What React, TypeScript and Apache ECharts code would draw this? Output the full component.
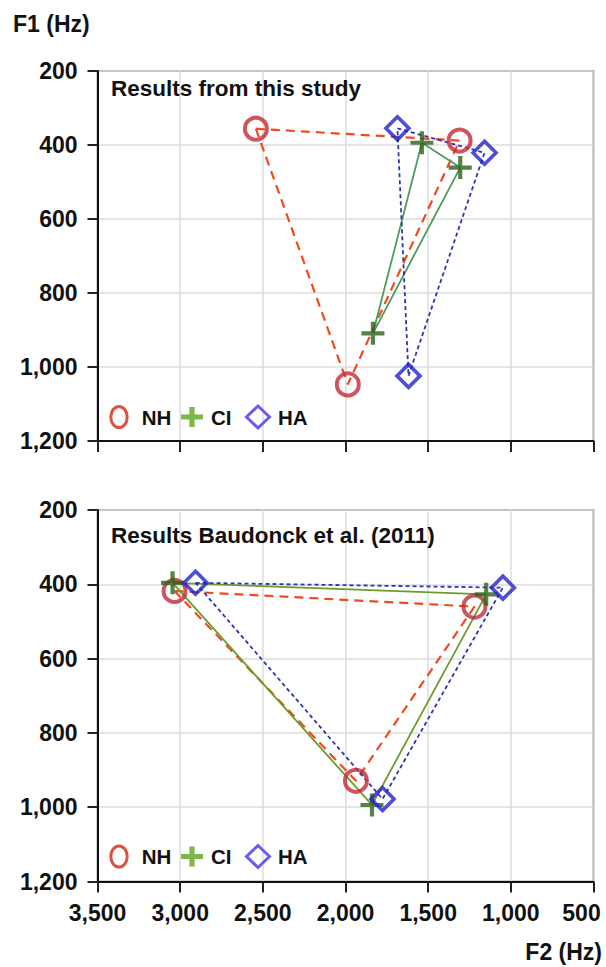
import React, { useEffect, useRef } from 'react';
import * as echarts from 'echarts';

// Axis ticks
const F2_TICKS = [3500, 3000, 2500, 2000, 1500, 1000, 500];
const F1_TICKS = [200, 400, 600, 800, 1000, 1200];

// Groups (legend)
const GROUPS = ['NH', 'CI', 'HA'];

// Panel titles
const PANEL_TITLES = ['Results from this study', 'Results Baudonck et al. (2011)'];

// Top panel: this study  [F2, F1]
const studyNH = [[2542, 356], [1310, 388], [1986, 1047]];
const studyCI = [[1538, 394], [1306, 461], [1834, 909]];
const studyHA = [[1686, 355], [1159, 421], [1619, 1024]];

// Bottom panel: Baudonck et al. (2011)  [F2, F1]
const baudNH = [[3034, 418], [1220, 460], [1937, 929]];
const baudCI = [[3046, 396], [1149, 427], [1840, 994]];
const baudHA = [[2907, 396], [1048, 409], [1776, 978]];

const FONT = '"Liberation Sans", Arial, Helvetica, sans-serif';
const PLUS = 'path://M9,0H13V9H22V13H13V22H9V13H0V9H9Z';

const fmt = (v: number) => v.toLocaleString('en-US');

const markerStyle: Record<string, any> = {
  NH: { symbol: 'circle', symbolSize: 22, itemStyle: { color: 'rgba(0,0,0,0)', borderColor: '#c02a38', borderWidth: 4 } },
  CI: { symbol: PLUS, symbolSize: 23, itemStyle: { color: '#2c6219', borderWidth: 0 } },
  HA: { symbol: 'diamond', symbolSize: 23, itemStyle: { color: 'rgba(0,0,0,0)', borderColor: '#2222cc', borderWidth: 3.6 } },
};

const lineStyles = (panel: number): Record<string, any> => ({
  NH: { color: '#f04a1e', width: 2.2, type: [9, 6] },
  CI: { color: panel === 0 ? '#4f9b5e' : '#6f9b2d', width: 1.8, type: 'solid' },
  HA: { color: '#2a36b0', width: 1.8, type: [4, 3] },
});

function buildLegend(y: number) {
  const tx = { NH: 141.7, CI: 211, HA: 278 };
  const cx = 119, px = 192, dx = 258;
  const pw = 11, ph = 10, pt = 2.6;
  const textStyle = (text: string, x: number) => ({
    type: 'text',
    z: 10,
    style: { text, x, y, fontSize: 20.5, fontWeight: 'bold', fontFamily: FONT, fill: '#111', verticalAlign: 'middle' },
  });
  return [
    { type: 'ellipse', z: 10, shape: { cx, cy: y, rx: 8.2, ry: 10.6 }, style: { fill: 'none', stroke: '#dd5343', lineWidth: 3 } },
    textStyle('NH', tx.NH),
    {
      type: 'polygon', z: 10,
      shape: {
        points: [
          [px - pt, y - ph], [px + pt, y - ph], [px + pt, y - pt], [px + pw, y - pt], [px + pw, y + pt],
          [px + pt, y + pt], [px + pt, y + ph], [px - pt, y + ph], [px - pt, y + pt], [px - pw, y + pt],
          [px - pw, y - pt], [px - pt, y - pt],
        ],
      },
      style: { fill: '#7db64b' },
    },
    textStyle('CI', tx.CI),
    {
      type: 'polygon', z: 10,
      shape: { points: [[dx, y - 11], [dx + 11.5, y], [dx, y + 11], [dx - 11.5, y]] },
      style: { fill: 'none', stroke: '#6b5cf0', lineWidth: 3 },
    },
    textStyle('HA', tx.HA),
  ];
}

export default function App() {
  const ref = useRef<HTMLDivElement>(null);

  useEffect(() => {
    if (!ref.current) return;
    const chart = echarts.init(ref.current, undefined, { renderer: 'svg' });

    const panels = [
      { NH: studyNH, CI: studyCI, HA: studyHA },
      { NH: baudNH, CI: baudCI, HA: baudHA },
    ];

    const grids = [
      { left: 97.5, top: 71, width: 496, height: 370 },
      { left: 97.5, top: 510, width: 496, height: 371.5 },
    ].map((g) => ({ ...g, show: true, borderColor: '#555', borderWidth: 1.5, backgroundColor: 'transparent' }));

    const labelBase = { fontSize: 23, fontWeight: 'bold', fontFamily: FONT, color: '#111' };

    const xAxes = [0, 1].map((i) => ({
      type: 'value',
      gridIndex: i,
      min: F2_TICKS[F2_TICKS.length - 1],
      max: F2_TICKS[0],
      interval: 500,
      inverse: true,
      axisLine: { show: true, onZero: false, lineStyle: { color: '#111', width: 2 } },
      axisTick: { show: true, length: 11, lineStyle: { color: '#222', width: 2 } },
      splitLine: { show: true, lineStyle: { color: '#dcdcdc', width: 1.5 } },
      axisLabel: {
        show: i === 1,
        margin: 20,
        ...labelBase,
        formatter: (v: number) => (v === 500 ? '{r|' + fmt(v) + '}' : fmt(v)),
        rich: { r: { ...labelBase, padding: [0, 24, 0, 0] } },
      },
    }));

    const yAxes = [0, 1].map((i) => ({
      type: 'value',
      gridIndex: i,
      min: F1_TICKS[0],
      max: F1_TICKS[F1_TICKS.length - 1],
      interval: 200,
      inverse: true,
      axisLine: { show: true, onZero: false, lineStyle: { color: '#111', width: 2 } },
      axisTick: { show: true, length: 10, lineStyle: { color: '#222', width: 2 } },
      splitLine: { show: true, lineStyle: { color: '#dcdcdc', width: 1.5 } },
      axisLabel: { margin: 20, ...labelBase, formatter: (v: number) => fmt(v) },
    }));

    const series: any[] = [];
    panels.forEach((panel, i) => {
      const ls = lineStyles(i);
      GROUPS.forEach((g) => {
        const pts = (panel as any)[g] as number[][];
        series.push({
          name: g,
          type: 'line',
          xAxisIndex: i,
          yAxisIndex: i,
          data: [...pts, pts[0]],
          symbol: 'none',
          lineStyle: ls[g],
          z: 2,
          silent: true,
        });
      });
      GROUPS.forEach((g) => {
        const pts = (panel as any)[g] as number[][];
        series.push({
          name: g,
          type: 'scatter',
          xAxisIndex: i,
          yAxisIndex: i,
          data: pts,
          ...markerStyle[g],
          z: 3,
        });
      });
    });

    const titleStyle = { fontSize: 23, fontWeight: 'bold', fontFamily: FONT, color: '#111' };

    chart.setOption({
      animation: false,
      backgroundColor: '#fff',
      title: [
        { text: 'F1 (Hz)', left: 13, top: 12, padding: 0, textStyle: titleStyle },
        { text: PANEL_TITLES[0], left: 111, top: 76.5, padding: 0, textStyle: { ...titleStyle, fontSize: 22.5 } },
        { text: PANEL_TITLES[1], left: 111, top: 524, padding: 0, textStyle: { ...titleStyle, fontSize: 22.5 } },
        { text: 'F2 (Hz)', right: 4, top: 940.5, padding: 0, textStyle: titleStyle },
      ],
      grid: grids,
      xAxis: xAxes,
      yAxis: yAxes,
      series,
      graphic: [...buildLegend(417), ...buildLegend(856.5)],
    });

    return () => chart.dispose();
  }, []);

  return <div ref={ref} style={{ position: 'absolute', left: 0, top: 0, width: 606, height: 967 }} />;
}
